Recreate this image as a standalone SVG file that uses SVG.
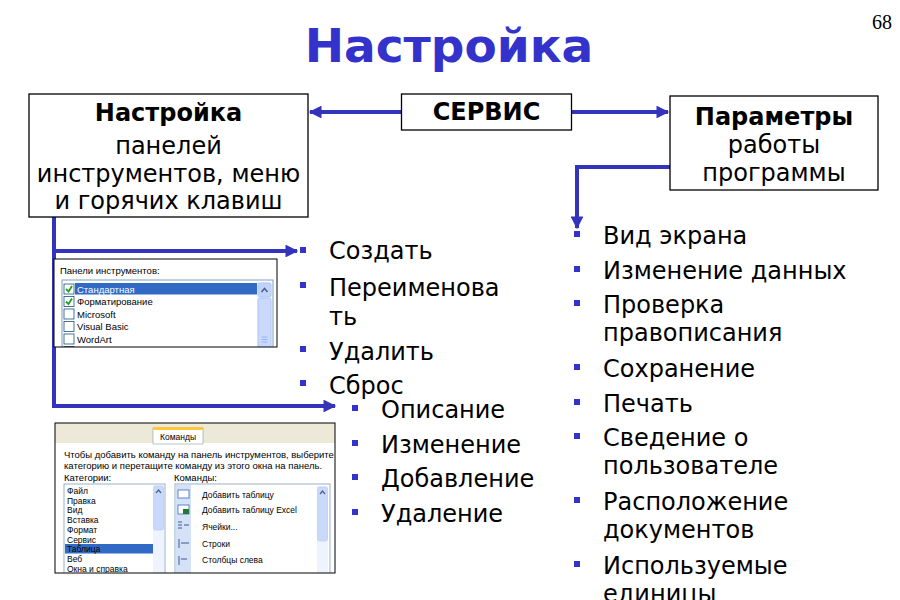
<svg xmlns="http://www.w3.org/2000/svg" width="900" height="600" viewBox="0 0 900 600">
<style>
.box{fill:#fff;stroke:#000;stroke-width:1.3}
.bt{font-family:"DejaVu Sans",sans-serif;font-size:24px;fill:#000;text-anchor:middle}
.b{font-weight:bold}
.li{font-family:"DejaVu Sans",sans-serif;font-size:24px;fill:#000}
.bul{fill:#3333CC}
.con{fill:none;stroke:#3333BB;stroke-width:4}
.ss{font-family:"Liberation Sans",sans-serif;font-size:9.5px;fill:#000}
.ssw{font-family:"Liberation Sans",sans-serif;font-size:9.5px;fill:#fff}
.sm{font-family:"Liberation Sans",sans-serif;font-size:8.5px;fill:#000}
</style>
<defs>
<marker id="ah" viewBox="0 0 10 10" refX="9" refY="5" markerWidth="3.4" markerHeight="3.2" orient="auto" markerUnits="strokeWidth">
<path d="M0,0 L10,5 L0,10 Z" fill="#3333BB"/>
</marker>
<clipPath id="c1"><rect x="54" y="259" width="223" height="88"/></clipPath>
<clipPath id="c2"><rect x="55" y="423" width="280" height="150"/></clipPath>
</defs>
<rect width="900" height="600" fill="#fff"/>
<text x="449" y="62" font-family="DejaVu Sans,sans-serif" font-weight="bold" font-size="47" fill="#3333CC" text-anchor="middle">Настройка</text>
<text x="892" y="29" font-family="Liberation Serif,serif" font-size="20" fill="#000" text-anchor="end">68</text>

<g id="connectors">
<path class="con" d="M401,112 H310" marker-end="url(#ah)"/>
<path class="con" d="M572,112 H668" marker-end="url(#ah)"/>
<path class="con" d="M670,167 H577 V228" marker-end="url(#ah)"/>
<path class="con" d="M54,217 V251 H297" marker-end="url(#ah)"/>
<path class="con" d="M54,251 V406 H335" marker-end="url(#ah)"/>
</g>

<g id="node-panels">
<rect class="box" x="29" y="94" width="279" height="123"/>
<text class="bt b" x="168.5" y="121">Настройка</text>
<text class="bt" x="168.5" y="154">панелей</text>
<text class="bt" x="168.5" y="182">инструментов, меню</text>
<text class="bt" x="168.5" y="209">и горячих клавиш</text>
</g>

<g id="node-service">
<rect class="box" x="401.5" y="94" width="170" height="36"/>
<text class="bt b" x="486.5" y="120">СЕРВИС</text>
</g>

<g id="node-params">
<rect class="box" x="670" y="96" width="208" height="94"/>
<text class="bt b" x="774" y="125">Параметры</text>
<text class="bt" x="774" y="153">работы</text>
<text class="bt" x="774" y="181">программы</text>
</g>

<g id="screenshot-toolbars" clip-path="url(#c1)">
<rect x="54" y="259" width="223" height="88" fill="#fff"/>
<text class="ss" x="60" y="274">Панели инструментов:</text>
<rect x="62" y="280" width="211" height="72" fill="#fff" stroke="#7F9DB9"/>
<rect x="75" y="283" width="182" height="11.5" fill="#316AC5"/>
<text class="ssw" x="77" y="292.5">Стандартная</text>
<text class="ss" x="77" y="305">Форматирование</text>
<text class="ss" x="77" y="317.5">Microsoft</text>
<text class="ss" x="77" y="330">Visual Basic</text>
<text class="ss" x="77" y="342.5">WordArt</text>
<g fill="#fff" stroke="#1C5180" stroke-width="0.8">
<rect x="64" y="284" width="10" height="10"/>
<rect x="64" y="296.5" width="10" height="10"/>
<rect x="64" y="309" width="10" height="10"/>
<rect x="64" y="321.5" width="10" height="10"/>
<rect x="64" y="334" width="10" height="10"/>
<rect x="64" y="346.5" width="10" height="10"/>
</g>
<path d="M66,289 L68.5,291.5 L72,286 M66,301.5 L68.5,304 L72,298.5" fill="none" stroke="#21A121" stroke-width="1.8"/>
<rect x="257" y="282" width="15" height="68" fill="#EEF3FD"/>
<rect x="258" y="283" width="13" height="14" rx="2" fill="#C1D3FB" stroke="#B3C8F5"/>
<path d="M261.5,292 L264.5,288.5 L267.5,292" fill="none" stroke="#4D6185" stroke-width="1.5"/>
<rect x="258" y="298" width="13" height="50" rx="2" fill="#C8D9FC" stroke="#B3C8F5"/>
<path d="M261.5,337 H267.5 M261.5,339.5 H267.5 M261.5,342 H267.5" stroke="#8EAEF0" stroke-width="0.8"/>
</g>
<rect x="54" y="259" width="223" height="88" fill="none" stroke="#000" stroke-width="1"/>

<g id="screenshot-commands" clip-path="url(#c2)">
<rect x="55" y="423" width="280" height="150" fill="#fff"/>
<rect x="55" y="423" width="280" height="20" fill="#ECE9D8"/>
<rect x="153" y="428" width="50" height="16" fill="#fff" stroke="#919B9C" stroke-width="0.6"/>
<rect x="153" y="427" width="50" height="3" rx="1" fill="#FFC83C"/>
<text class="sm" x="178" y="440" text-anchor="middle">Команды</text>
<text class="ss" x="64" y="458">Чтобы добавить команду на панель инструментов, выберите</text>
<text class="ss" x="64" y="469">категорию и перетащите команду из этого окна на панель.</text>
<text class="ss" x="64" y="481">Категории:</text>
<text class="ss" x="174" y="481">Команды:</text>
<rect x="64" y="484" width="101" height="95" fill="#fff" stroke="#7F9DB9" stroke-width="0.8"/>
<rect x="65" y="544" width="88" height="9.5" fill="#316AC5"/>
<text class="sm" x="67" y="494">Файл</text>
<text class="sm" x="67" y="503.7">Правка</text>
<text class="sm" x="67" y="513.4">Вид</text>
<text class="sm" x="67" y="523.1">Вставка</text>
<text class="sm" x="67" y="532.8">Формат</text>
<text class="sm" x="67" y="542.5">Сервис</text>
<text class="sm" x="67" y="552.2" fill="#fff">Таблица</text>
<text class="sm" x="67" y="561.9">Веб</text>
<text class="sm" x="67" y="571.6">Окна и справка</text>
<rect x="153" y="485" width="11" height="88" fill="#EEF3FD"/>
<rect x="153.5" y="486" width="10" height="44" rx="2" fill="#C8D9FC" stroke="#B3C8F5" stroke-width="0.6"/>
<path d="M156,493 L158.5,490 L161,493" fill="none" stroke="#4D6185" stroke-width="1.2"/>
<rect x="175" y="484" width="155" height="95" fill="#fff" stroke="#7F9DB9" stroke-width="0.8"/>
<rect x="176" y="485" width="15" height="90" fill="#D5E1F6"/>
<g fill="#fff" stroke="#3B6CC0" stroke-width="0.8">
<rect x="178" y="490" width="11" height="8"/>
<rect x="178" y="505" width="11" height="9"/>
</g>
<rect x="183" y="509" width="6" height="5" fill="#1E7B35"/>
<path d="M178,522 H182 M178,525 H182 M178,528 H182 M184,525 H189 M179,539 V548 M181,543 H189 M179,556 V565 M181,559 H187" stroke="#3A5A9C" stroke-width="1"/>
<text class="sm" x="202" y="498">Добавить таблицу</text>
<text class="sm" x="202" y="513">Добавить таблицу Excel</text>
<text class="sm" x="202" y="530">Ячейки...</text>
<text class="sm" x="202" y="547">Строки</text>
<text class="sm" x="202" y="563">Столбцы слева</text>
<rect x="317" y="486" width="11" height="88" fill="#EEF3FD"/>
<rect x="317.5" y="487" width="10" height="54" rx="2" fill="#C8D9FC" stroke="#B3C8F5" stroke-width="0.6"/>
<path d="M320,494 L322.5,491 L325,494" fill="none" stroke="#4D6185" stroke-width="1.2"/>
</g>
<rect x="55" y="423" width="280" height="150" fill="none" stroke="#000" stroke-width="1"/>

<g id="list-toolbar-actions">
<rect class="bul" x="300" y="247" width="6" height="6"/>
<text class="li" x="329" y="259">Создать</text>
<rect class="bul" x="300" y="282" width="6" height="6"/>
<text class="li" x="329" y="296">Переименова</text>
<text class="li" x="329" y="325">ть</text>
<rect class="bul" x="300" y="346" width="6" height="6"/>
<text class="li" x="329" y="360">Удалить</text>
<rect class="bul" x="300" y="380" width="6" height="6"/>
<text class="li" x="329" y="394">Сброс</text>
</g>

<g id="list-command-actions">
<rect class="bul" x="352" y="405" width="6" height="6"/>
<text class="li" x="381" y="418">Описание</text>
<rect class="bul" x="352" y="440" width="6" height="6"/>
<text class="li" x="381" y="453">Изменение</text>
<rect class="bul" x="352" y="474" width="6" height="6"/>
<text class="li" x="381" y="487">Добавление</text>
<rect class="bul" x="352" y="509" width="6" height="6"/>
<text class="li" x="381" y="522">Удаление</text>
</g>

<g id="list-params">
<rect class="bul" x="574" y="231" width="6" height="6"/>
<text class="li" x="603" y="244">Вид экрана</text>
<rect class="bul" x="574" y="266" width="6" height="6"/>
<text class="li" x="603" y="279">Изменение данных</text>
<rect class="bul" x="574" y="300" width="6" height="6"/>
<text class="li" x="603" y="313">Проверка</text>
<text class="li" x="603" y="341">правописания</text>
<rect class="bul" x="574" y="364" width="6" height="6"/>
<text class="li" x="603" y="377">Сохранение</text>
<rect class="bul" x="574" y="399" width="6" height="6"/>
<text class="li" x="603" y="412">Печать</text>
<rect class="bul" x="574" y="433" width="6" height="6"/>
<text class="li" x="603" y="446">Сведение о</text>
<text class="li" x="603" y="474">пользователе</text>
<rect class="bul" x="574" y="497" width="6" height="6"/>
<text class="li" x="603" y="510">Расположение</text>
<text class="li" x="603" y="538">документов</text>
<rect class="bul" x="574" y="561" width="6" height="6"/>
<text class="li" x="603" y="574">Используемые</text>
<text class="li" x="603" y="602">единицы</text>
</g>
</svg>
